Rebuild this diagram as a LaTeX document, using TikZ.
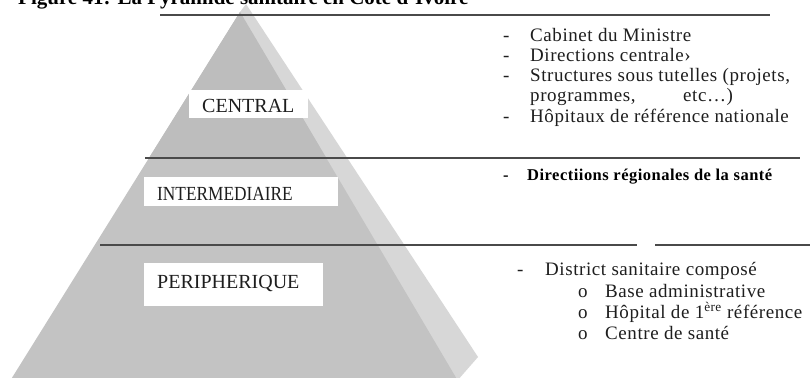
\documentclass[tikz,border=0pt]{standalone}
\usepackage{fontspec}
\usepackage{graphicx}
\setmainfont{Liberation Serif}
\newfontfamily\bodyfont[LetterSpace=3]{Liberation Serif}
\newfontfamily\labfont{Liberation Serif}
\definecolor{frontc}{HTML}{C3C3C3}
\definecolor{topc}{HTML}{BDBDBD}
\definecolor{sidec}{HTML}{D7D7D7}
\definecolor{linec}{HTML}{4A4A4A}
\definecolor{txtc}{HTML}{1E1E1E}
\tikzset{
  rule/.style={draw=linec, line width=1.4pt},
  labtext/.style={anchor=base west, inner sep=0pt, text=txtc, font=\labfont\fontsize{20}{22}\selectfont},
  item/.style={anchor=base west, inner sep=0pt, text=txtc, font=\bodyfont\fontsize{19}{21}\selectfont},
  bolditem/.style={anchor=base west, inner sep=0pt, text=black, font=\bodyfont\bfseries\fontsize{16.5}{18}\selectfont},
  titletext/.style={anchor=base west, inner sep=0pt, text=black, font=\bfseries\fontsize{21}{24}\selectfont}
}
\begin{document}
\begin{tikzpicture}[x=1pt,y=-1pt]
\useasboundingbox (0,0) rectangle (810,377);
\fill[white] (0,0) rectangle (810,377);
% title (cut at the top, as in the source)
\node[titletext] (title) at (18,5) {Figure 41: La Pyramide sanitaire en Côte d'Ivoire};
% pyramid
\fill[sidec] (240,12) -- (246,4) -- (478,357) -- (457,381) -- cycle;
\begin{scope}
  \clip (240,12) -- (10,381) -- (458,381) -- cycle;
  \fill[frontc] (0,0) rectangle (500,381);
  \fill[topc] (0,0) rectangle (500,158);
\end{scope}
% rules
\coordinate (r1a) at (160,15); \coordinate (r1b) at (770,15);
\coordinate (r2a) at (145,158); \coordinate (r2b) at (800,158);
\coordinate (r3a) at (100,245); \coordinate (r3b) at (637,245);
\coordinate (r3c) at (655,245); \coordinate (r3d) at (810,245);
\draw[rule] (r1a) -- (r1b);
\draw[rule] (r2a) -- (r2b);
\draw[rule] (r3a) -- (r3b);
\draw[rule] (r3c) -- (r3d);
% label boxes
\fill[white] (189,90) rectangle (308,118);
\fill[white] (144,177) rectangle (338,206);
\fill[white] (144,263) rectangle (323,306);
\node[labtext] (central) at (202,113) {CENTRAL};
\node[labtext] (inter) at (157,200) {\scalebox{0.865}[1]{INTERMEDIAIRE}};
\node[labtext] (peri) at (157,288) {PERIPHERIQUE};
% central items
\node[item] (d1) at (503,42) {-};
\node[item] (t1) at (530,42) {Cabinet du Ministre};
\node[item] (d2) at (503,62) {-};
\node[item] (t2) at (530,62) {Directions centrale›};
\node[item] (d3) at (503,82) {-};
\node[item] (t3) at (530,82) {Structures sous tutelles (projets,};
\node[item] (t3b) at (530,102) {programmes,};
\node[item] (t3c) at (683,102) {etc…)};
\node[item] (d4) at (503,122) {-};
\node[item] (t4) at (530,122) {Hôpitaux de référence nationale};
% intermediate
\node[bolditem] (d5) at (503,180) {-};
\node[bolditem] (t5) at (527,180) {Directiions régionales de la santé};
% peripheral
\node[item] (d6) at (517,275) {-};
\node[item] (t6) at (545,275) {District sanitaire composé};
\node[item] (o1) at (578,297) {o};
\node[item] (t7) at (605,297) {Base administrative};
\node[item] (o2) at (578,318) {o};
\node[item] (t8) at (605,318) {Hôpital de 1\textsuperscript{ère} référence};
\node[item] (o3) at (578,339) {o};
\node[item] (t9) at (605,339) {Centre de santé};
\end{tikzpicture}
\end{document}
